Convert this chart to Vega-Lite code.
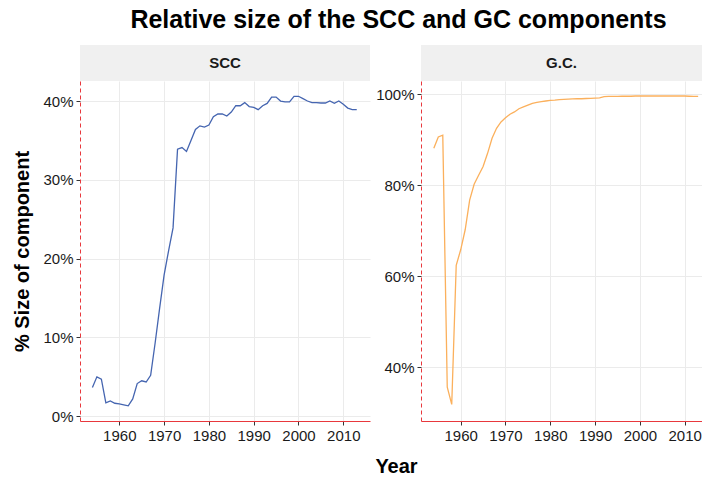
{
  "$schema": "https://vega.github.io/schema/vega-lite/v6.json",
  "padding": {"left": 12, "top": 8, "right": 0, "bottom": 0},
  "title": {"text": "Relative size of the SCC and GC components", "fontSize": 25, "fontWeight": "bold", "font": "Liberation Sans", "color": "#000000", "anchor": "middle", "offset": 12, "dx": 41},
  "datasets": {
    "sizes": [
      {"component": "SCC", "year": 1954, "value": 0.0364},
      {"component": "SCC", "year": 1955, "value": 0.0500},
      {"component": "SCC", "year": 1956, "value": 0.0470},
      {"component": "SCC", "year": 1957, "value": 0.0170},
      {"component": "SCC", "year": 1958, "value": 0.0195},
      {"component": "SCC", "year": 1959, "value": 0.0165},
      {"component": "SCC", "year": 1960, "value": 0.0157},
      {"component": "SCC", "year": 1961, "value": 0.0145},
      {"component": "SCC", "year": 1962, "value": 0.0132},
      {"component": "SCC", "year": 1963, "value": 0.0220},
      {"component": "SCC", "year": 1964, "value": 0.0415},
      {"component": "SCC", "year": 1965, "value": 0.0450},
      {"component": "SCC", "year": 1966, "value": 0.0435},
      {"component": "SCC", "year": 1967, "value": 0.0520},
      {"component": "SCC", "year": 1968, "value": 0.0930},
      {"component": "SCC", "year": 1969, "value": 0.1370},
      {"component": "SCC", "year": 1970, "value": 0.1790},
      {"component": "SCC", "year": 1971, "value": 0.2100},
      {"component": "SCC", "year": 1972, "value": 0.2390},
      {"component": "SCC", "year": 1973, "value": 0.3390},
      {"component": "SCC", "year": 1974, "value": 0.3410},
      {"component": "SCC", "year": 1975, "value": 0.3360},
      {"component": "SCC", "year": 1976, "value": 0.3500},
      {"component": "SCC", "year": 1977, "value": 0.3640},
      {"component": "SCC", "year": 1978, "value": 0.3685},
      {"component": "SCC", "year": 1979, "value": 0.3670},
      {"component": "SCC", "year": 1980, "value": 0.3695},
      {"component": "SCC", "year": 1981, "value": 0.3800},
      {"component": "SCC", "year": 1982, "value": 0.3835},
      {"component": "SCC", "year": 1983, "value": 0.3835},
      {"component": "SCC", "year": 1984, "value": 0.3810},
      {"component": "SCC", "year": 1985, "value": 0.3860},
      {"component": "SCC", "year": 1986, "value": 0.3940},
      {"component": "SCC", "year": 1987, "value": 0.3940},
      {"component": "SCC", "year": 1988, "value": 0.3980},
      {"component": "SCC", "year": 1989, "value": 0.3930},
      {"component": "SCC", "year": 1990, "value": 0.3920},
      {"component": "SCC", "year": 1991, "value": 0.3890},
      {"component": "SCC", "year": 1992, "value": 0.3940},
      {"component": "SCC", "year": 1993, "value": 0.3970},
      {"component": "SCC", "year": 1994, "value": 0.4050},
      {"component": "SCC", "year": 1995, "value": 0.4050},
      {"component": "SCC", "year": 1996, "value": 0.4000},
      {"component": "SCC", "year": 1997, "value": 0.3990},
      {"component": "SCC", "year": 1998, "value": 0.3990},
      {"component": "SCC", "year": 1999, "value": 0.4060},
      {"component": "SCC", "year": 2000, "value": 0.4060},
      {"component": "SCC", "year": 2001, "value": 0.4030},
      {"component": "SCC", "year": 2002, "value": 0.4000},
      {"component": "SCC", "year": 2003, "value": 0.3980},
      {"component": "SCC", "year": 2004, "value": 0.3980},
      {"component": "SCC", "year": 2005, "value": 0.3975},
      {"component": "SCC", "year": 2006, "value": 0.3975},
      {"component": "SCC", "year": 2007, "value": 0.4000},
      {"component": "SCC", "year": 2008, "value": 0.3970},
      {"component": "SCC", "year": 2009, "value": 0.4000},
      {"component": "SCC", "year": 2010, "value": 0.3960},
      {"component": "SCC", "year": 2011, "value": 0.3910},
      {"component": "SCC", "year": 2012, "value": 0.3890},
      {"component": "SCC", "year": 2013, "value": 0.3890},
      {"component": "GC", "year": 1954, "value": 0.881},
      {"component": "GC", "year": 1955, "value": 0.906},
      {"component": "GC", "year": 1956, "value": 0.910},
      {"component": "GC", "year": 1957, "value": 0.356},
      {"component": "GC", "year": 1958, "value": 0.318},
      {"component": "GC", "year": 1959, "value": 0.624},
      {"component": "GC", "year": 1960, "value": 0.658},
      {"component": "GC", "year": 1961, "value": 0.702},
      {"component": "GC", "year": 1962, "value": 0.767},
      {"component": "GC", "year": 1963, "value": 0.802},
      {"component": "GC", "year": 1964, "value": 0.822},
      {"component": "GC", "year": 1965, "value": 0.841},
      {"component": "GC", "year": 1966, "value": 0.870},
      {"component": "GC", "year": 1967, "value": 0.903},
      {"component": "GC", "year": 1968, "value": 0.925},
      {"component": "GC", "year": 1969, "value": 0.939},
      {"component": "GC", "year": 1970, "value": 0.948},
      {"component": "GC", "year": 1971, "value": 0.956},
      {"component": "GC", "year": 1972, "value": 0.961},
      {"component": "GC", "year": 1973, "value": 0.968},
      {"component": "GC", "year": 1974, "value": 0.972},
      {"component": "GC", "year": 1975, "value": 0.976},
      {"component": "GC", "year": 1976, "value": 0.980},
      {"component": "GC", "year": 1977, "value": 0.982},
      {"component": "GC", "year": 1978, "value": 0.9835},
      {"component": "GC", "year": 1979, "value": 0.985},
      {"component": "GC", "year": 1980, "value": 0.9865},
      {"component": "GC", "year": 1981, "value": 0.987},
      {"component": "GC", "year": 1982, "value": 0.988},
      {"component": "GC", "year": 1983, "value": 0.9885},
      {"component": "GC", "year": 1984, "value": 0.989},
      {"component": "GC", "year": 1985, "value": 0.9895},
      {"component": "GC", "year": 1986, "value": 0.990},
      {"component": "GC", "year": 1987, "value": 0.990},
      {"component": "GC", "year": 1988, "value": 0.9905},
      {"component": "GC", "year": 1989, "value": 0.991},
      {"component": "GC", "year": 1990, "value": 0.9915},
      {"component": "GC", "year": 1991, "value": 0.992},
      {"component": "GC", "year": 1992, "value": 0.9945},
      {"component": "GC", "year": 1993, "value": 0.995},
      {"component": "GC", "year": 1994, "value": 0.995},
      {"component": "GC", "year": 1995, "value": 0.995},
      {"component": "GC", "year": 1996, "value": 0.9955},
      {"component": "GC", "year": 1997, "value": 0.9955},
      {"component": "GC", "year": 1998, "value": 0.9955},
      {"component": "GC", "year": 1999, "value": 0.996},
      {"component": "GC", "year": 2000, "value": 0.996},
      {"component": "GC", "year": 2001, "value": 0.996},
      {"component": "GC", "year": 2002, "value": 0.996},
      {"component": "GC", "year": 2003, "value": 0.996},
      {"component": "GC", "year": 2004, "value": 0.996},
      {"component": "GC", "year": 2005, "value": 0.996},
      {"component": "GC", "year": 2006, "value": 0.996},
      {"component": "GC", "year": 2007, "value": 0.996},
      {"component": "GC", "year": 2008, "value": 0.996},
      {"component": "GC", "year": 2009, "value": 0.996},
      {"component": "GC", "year": 2010, "value": 0.996},
      {"component": "GC", "year": 2011, "value": 0.9955},
      {"component": "GC", "year": 2012, "value": 0.995},
      {"component": "GC", "year": 2013, "value": 0.995}
    ]
  },
  "config": {
    "font": "Liberation Sans",
    "view": {"stroke": null},
    "axis": {
      "labelFont": "Liberation Sans", "labelFontSize": 15, "labelColor": "#1a1a1a",
      "titleFont": "Liberation Sans", "titleFontSize": 20, "titleFontWeight": "bold", "titleColor": "#000000",
      "gridColor": "#ebebeb", "gridWidth": 1,
      "tickColor": "#333333", "tickSize": 4, "tickWidth": 1,
      "domainColor": "#e8383d", "domainWidth": 1, "labelPadding": 3
    }
  },
  "bounds": "flush",
  "columns": 2,
  "spacing": {"column": 51, "row": 0},
  "concat": [
    {
      "width": 290, "height": 36,
      "view": {"fill": "#f0f0f0", "stroke": null},
      "data": {"values": [{"label": "SCC"}]},
      "mark": {"type": "text", "fontSize": 15, "fontWeight": "bold", "color": "#1a1a1a", "font": "Liberation Sans", "baseline": "middle", "align": "center"},
      "encoding": {"text": {"field": "label", "type": "nominal"}}
    },
    {
      "width": 281, "height": 36,
      "view": {"fill": "#f0f0f0", "stroke": null},
      "data": {"values": [{"label": "G.C."}]},
      "mark": {"type": "text", "fontSize": 15, "fontWeight": "bold", "color": "#1a1a1a", "font": "Liberation Sans", "baseline": "middle", "align": "center"},
      "encoding": {"text": {"field": "label", "type": "nominal"}}
    },
    {
      "width": 290, "height": 340,
      "data": {"name": "sizes"},
      "transform": [{"filter": "datum.component === 'SCC'"}],
      "mark": {"type": "line", "color": "#4565b0", "strokeWidth": 1.3},
      "encoding": {
        "x": {"field": "year", "type": "quantitative",
          "scale": {"domain": [1951.23, 2015.96], "nice": false, "zero": false},
          "axis": {"values": [1960, 1970, 1980, 1990, 2000, 2010], "format": "d", "title": "Year", "titleX": 316, "titleY": 51, "titleBaseline": "alphabetic"}},
        "y": {"field": "value", "type": "quantitative",
          "scale": {"domain": [-0.006, 0.4254], "nice": false, "zero": false},
          "axis": {"values": [0, 0.1, 0.2, 0.3, 0.4], "format": ".0%", "title": "% Size of component", "titlePadding": 10, "domainDash": [4, 3]}}
      }
    },
    {
      "width": 281, "height": 340,
      "data": {"name": "sizes"},
      "transform": [{"filter": "datum.component === 'GC'"}],
      "mark": {"type": "line", "color": "#fbb05c", "strokeWidth": 1.3},
      "encoding": {
        "x": {"field": "year", "type": "quantitative",
          "scale": {"domain": [1951.14, 2013.86], "nice": false, "zero": false},
          "axis": {"values": [1960, 1970, 1980, 1990, 2000, 2010], "format": "d", "title": null}},
        "y": {"field": "value", "type": "quantitative",
          "scale": {"domain": [0.2816, 1.029], "nice": false, "zero": false},
          "axis": {"values": [0.4, 0.6, 0.8, 1.0], "format": ".0%", "title": null, "domainDash": [4, 3]}}
      }
    }
  ]
}
